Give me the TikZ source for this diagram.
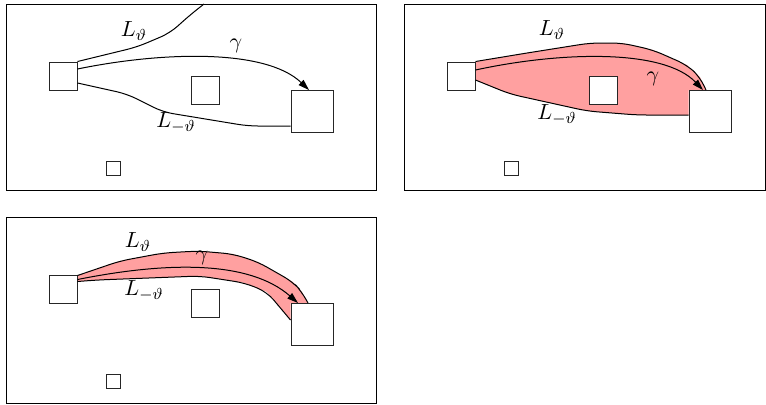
\documentclass[tikz,border=0pt]{standalone}
\usepackage{amsmath,amssymb}
\usetikzlibrary{calc,arrows.meta,backgrounds}
\definecolor{ConeRed}{RGB}{255,160,160}
\tikzset{
  frame/.style={draw=black,line width=0.5pt},
  obst/.style={draw=black!85,fill=white,line width=0.5pt,inner sep=0pt,minimum size=#1},
  lpath/.style={draw=black,line width=0.5pt,rounded corners=5pt},
  cone/.style={fill=ConeRed},
  gam/.style={draw=black,line width=0.5pt,-{Triangle[length=5.5pt,width=3.5pt]}},
  lab/.style={font=\fontsize{11}{13}\selectfont,inner sep=0pt},
}

\begin{document}
\begin{tikzpicture}[x=0.5pt,y=-0.5pt]
\useasboundingbox (0,0) rectangle (766,404);
\foreach \p/\dx/\dy/\w in {1/0/0/376,2/398/0/367,3/0/213/376}{
  \begin{scope}[shift={(\dx,\dy)}]
  \draw[frame] (6,4) rectangle (\w,190);
  \node[obst=14pt] (src\p) at (63,76) {};
  \node[obst=14pt] (mid\p) at (205,90) {};
  \node[obst=21pt] (big\p) at (312,111.5) {};
  \node[obst=7pt] (tiny\p) at (113,168) {};
  \end{scope}
}
\coordinate (exit1) at (204,4);
\draw[lpath] (src1.north east) -- (137,47) -- (170,33) -- (190,15) -- (exit1);
\draw[lpath] ($(src1.east)+(0,7)$) -- (127,94) -- (163,112) -- (248,126) -- ($(big1.west)+(0,14.5)$);
\draw[gam] ($(src1.east)+(0,-7)$) .. controls (160,52) and (265,48) .. ($(big1.north)+(-3,0)$);
\node[lab] (lt1) at (134,31) {$L_\vartheta$};
\node[lab] (gm1) at (236,46) {$\gamma$};
\node[lab] (lm1) at (176,123) {$L_{-\vartheta}$};
\begin{scope}[on background layer]
\fill[cone] (src2.north east) -- (527,53) -- (590,43) -- (622,43) -- (653,50) -- (687,65) -- (700,77)
  -- ($(big2.north)+(-4,0)$) -- (big2.north west) -- ($(big2.west)+(0,3.5)$)
  -- (637,115) -- (587,111) -- (510,94) -- ($(src2.east)+(0,4)$) -- cycle;
\fill[cone] ($(src3.north east)+(0,1)$) -- (120,261) -- (163,253) -- (198,251) -- (233,254) -- (258,262) -- (293,282) -- (302,292)
  -- ($(big3.north)+(-4,0)$) -- (big3.north west) -- ($(big3.west)+(0,-4.5)$)
  -- (267,292) -- (245,283) -- (200,276) -- (97,280) -- ($(src3.north east)+(0,7)$) -- cycle;
\end{scope}
\draw[lpath] (src2.north east) -- (527,53) -- (590,43) -- (622,43) -- (653,50) -- (687,65) -- (700,77) -- ($(big2.north)+(-4,0)$);
\draw[lpath] ($(src2.east)+(0,4)$) -- (510,94) -- (587,111) -- (637,115) -- ($(big2.west)+(0,3.5)$);
\draw[gam] ($(src2.east)+(0,-6)$) .. controls (558,52) and (663,48) .. ($(big2.north)+(-7,0)$);
\node[lab] (lt2) at (552,30) {$L_\vartheta$};
\node[lab] (gm2) at (653,79) {$\gamma$};
\node[lab] (lm2) at (557,115) {$L_{-\vartheta}$};
\draw[lpath] ($(src3.north east)+(0,1)$) -- (120,261) -- (163,253) -- (198,251) -- (233,254) -- (258,262) -- (293,282) -- (302,292) -- ($(big3.north)+(-4,0)$);
\draw[lpath] ($(src3.north east)+(0,7)$) -- (97,280) -- (200,276) -- (245,283) -- (267,292) -- ($(big3.west)+(0,-4.5)$);
\draw[gam] ($(src3.north east)+(0,5)$) .. controls (170,261) and (250,261) .. ($(big3.north)+(-14,0)$);
\node[lab] (lt3) at (138,242) {$L_\vartheta$};
\node[lab] (gm3) at (202,258) {$\gamma$};
\node[lab] (lm3) at (144,291) {$L_{-\vartheta}$};
\end{tikzpicture}
\end{document}
